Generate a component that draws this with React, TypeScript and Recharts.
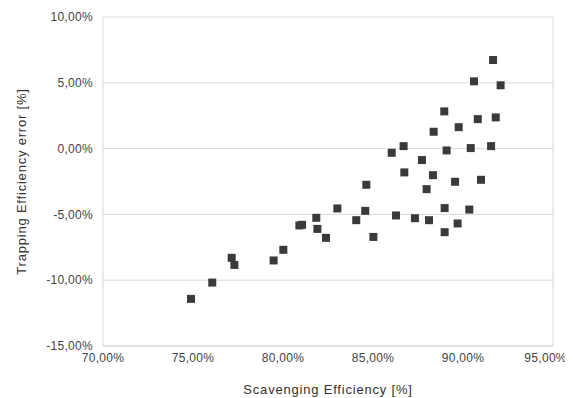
import React from 'react';
import { ScatterChart, Scatter, XAxis, YAxis, CartesianGrid, ReferenceLine } from 'recharts';

const scavenging: number[] = [
  74.89, 76.07, 77.15, 77.3, 79.48, 80.02, 80.91, 81.06, 81.85, 81.91, 82.39, 83.02,
  84.07, 84.57, 84.63, 85.02, 86.04, 86.28, 86.7, 86.74, 87.33, 87.72, 87.98, 88.11,
  88.33, 88.37, 88.96, 88.98, 88.98, 89.09, 89.56, 89.7, 89.76, 90.35, 90.43, 90.61,
  90.82, 91.0, 91.56, 91.67, 91.82, 92.09,
];
const trappingError: number[] = [
  -11.42, -10.18, -8.3, -8.84, -8.5, -7.69, -5.84, -5.79, -5.26, -6.1, -6.78, -4.55,
  -5.44, -4.73, -2.75, -6.71, -0.32, -5.08, 0.19, -1.81, -5.29, -0.87, -3.08, -5.44,
  -2.02, 1.28, 2.83, -4.52, -6.35, -0.14, -2.52, -5.69, 1.63, -4.63, 0.04, 5.11,
  2.24, -2.37, 0.19, 6.73, 2.37, 4.81,
];
const xTicks: number[] = [70, 75, 80, 85, 90, 95];
const yTicks: number[] = [-15, -10, -5, 0, 5, 10];

const data = scavenging.map((x, i) => ({ x, y: trappingError[i] }));
const fmt = (v: number) => v.toFixed(2).replace('.', ',') + '%';

const tickStyle = { fill: '#444', fontSize: 12, fontFamily: 'Liberation Sans, Arial, sans-serif', letterSpacing: 0.3 };
const labelStyle = { fill: '#333', fontSize: 13, fontFamily: 'Liberation Sans, Arial, sans-serif', letterSpacing: 0.8 };

export default function App() {
  return (
    <div>
      <style>{'html,body{overflow:hidden;} .recharts-surface{overflow:visible;}'}</style>
      <ScatterChart width={557} height={390} margin={{ top: 9, right: 12, bottom: 2, left: 0 }}>
        <CartesianGrid vertical={false} stroke="#d9d9d9" strokeWidth={1} />
        <XAxis
          type="number"
          dataKey="x"
          domain={[70, 95]}
          ticks={xTicks}
          tickFormatter={fmt}
          tick={tickStyle}
          tickLine={false}
          tickSize={0}
          tickMargin={7}
          axisLine={{ stroke: '#d9d9d9' }}
          height={50}
          label={{ value: 'Scavenging Efficiency [%]', position: 'insideBottom', offset: 2, style: labelStyle }}
        />
        <YAxis
          type="number"
          dataKey="y"
          domain={[-15, 10]}
          ticks={yTicks}
          tickFormatter={fmt}
          tick={tickStyle}
          tickLine={false}
          tickSize={0}
          tickMargin={10}
          axisLine={{ stroke: '#d9d9d9' }}
          width={95}
          label={{ value: 'Trapping Efficiency error [%]', angle: -90, position: 'insideLeft', offset: 13, style: { ...labelStyle, textAnchor: 'middle' } }}
        />
        <ReferenceLine x={95} stroke="#d9d9d9" />
        <Scatter data={data} fill="#3a3a3a" shape="square" legendType="square" isAnimationActive={false} />
      </ScatterChart>
    </div>
  );
}
